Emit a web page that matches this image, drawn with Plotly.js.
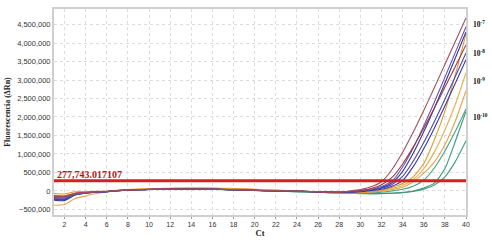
<!DOCTYPE html>
<html>
<head>
<meta charset="utf-8">
<script src="https://cdn.plot.ly/plotly-3.0.1.min.js"></script>
<style>html,body{margin:0;padding:0;background:#fff;}#chart{width:492px;height:243px;}</style>
</head>
<body>
<div id="chart"></div>
<script>
// Cycles (Ct)
const cycles = [1,2,3,4,5,6,7,8,9,10,11,12,13,14,15,16,17,18,19,20,21,22,23,24,25,26,27,28,29,30,31,32,33,34,35,36,37,38,39,40];

// Threshold value
const threshold = 277743.017107;
const thresholdLabel = "277,743.017107";

// Dilution labels
const dilutionLabels = ["10<sup>-7</sup>", "10<sup>-8</sup>", "10<sup>-9</sup>", "10<sup>-10</sup>"];

// Fluorescence (ΔRn) series
const maroon1 = [-150000,-160000,-70000,-45000,-25000,-15000,10000,25000,35000,42000,48000,52000,54000,54000,52000,48000,42000,36000,28000,18000,10000,4000,0,-5000,-12000,-20000,-28000,-30000,0,37000,113000,250000,581000,1046000,1586000,2175000,2791000,3419000,4050000,4680000];
const maroon2 = [-130000,-140000,-60000,-40000,-22000,-14000,12000,27000,37000,44000,50000,54000,56000,55000,53000,49000,43000,36000,28000,19000,11000,4000,-1000,-6000,-13000,-21000,-29000,-32000,-14000,15000,66000,168000,365000,730000,1185000,1695000,2240000,2802000,3372000,3950000];
const blue1 = [-200000,-210000,-90000,-55000,-30000,-18000,6000,22000,32000,40000,45000,49000,51000,51000,49000,45000,40000,34000,26000,17000,9000,2000,-3000,-8000,-15000,-23000,-31000,-35000,-21000,3000,41000,122000,265000,647000,1164000,1757000,2401000,3071000,3754000,4440000];
const blue2 = [-250000,-260000,-110000,-60000,-32000,-20000,5000,21000,31000,39000,44000,48000,50000,50000,48000,44000,39000,33000,25000,16000,8000,1000,-4000,-9000,-16000,-24000,-32000,-35000,-25000,-5000,29000,96000,220000,529000,1017000,1599000,2238000,2912000,3604000,4300000];
const blue3 = [-180000,-190000,-80000,-50000,-28000,-17000,8000,23000,33000,41000,46000,50000,52000,52000,50000,46000,40000,34000,26000,17000,9000,2000,-3000,-8000,-15000,-23000,-31000,-35000,-30000,-12000,17000,71000,175000,393000,802000,1308000,1873000,2477000,3099000,3730000];
const blue4 = [-220000,-230000,-100000,-58000,-30000,-19000,7000,22000,32000,40000,45000,49000,51000,51000,49000,45000,39000,33000,25000,16000,8000,1000,-4000,-9000,-16000,-24000,-32000,-38000,-35000,-20000,5000,45000,130000,280000,657000,1144000,1698000,2297000,2917000,3550000];
const orange1 = [-70000,-80000,-20000,-15000,-10000,-5000,18000,35000,50000,60000,68000,74000,78000,80000,80000,77000,72000,65000,56000,45000,34000,22000,10000,-2000,-14000,-26000,-38000,-48000,-52000,-45000,-20000,20000,100000,200000,380000,740000,1380000,2150000,3150000,4250000];
const orange2 = [-120000,-130000,-60000,-40000,-20000,-10000,15000,32000,45000,55000,63000,69000,73000,75000,74000,71000,66000,59000,50000,40000,29000,18000,7000,-4000,-16000,-28000,-40000,-50000,-55000,-50000,-30000,10000,70000,150000,310000,600000,1050000,1650000,2350000,3200000];
const orange3 = [-385000,-366000,-205000,-134000,-70000,-25000,5000,25000,40000,50000,58000,64000,68000,70000,70000,67000,62000,55000,46000,36000,25000,14000,3000,-8000,-20000,-32000,-44000,-55000,-62000,-60000,-45000,-10000,40000,100000,250000,480000,780000,1250000,1900000,2710000];
const green1 = [-160000,-170000,-75000,-48000,-26000,-16000,8000,23000,33000,40000,45000,48000,50000,50000,48000,44000,38000,31000,23000,14000,5000,-3000,-10000,-18000,-26000,-34000,-42000,-50000,-58000,-62000,-55000,-35000,0,45000,130000,290000,620000,1080000,1620000,2220000];
const green2 = [-230000,-240000,-95000,-55000,-30000,-19000,6000,21000,31000,38000,43000,46000,48000,48000,46000,42000,36000,29000,21000,12000,3000,-5000,-13000,-21000,-30000,-39000,-48000,-57000,-66000,-72000,-75000,-72000,-60000,-40000,0,80000,210000,600000,1350000,2150000];
const green3 = [-140000,-150000,-65000,-42000,-24000,-15000,9000,24000,34000,41000,46000,49000,51000,51000,49000,45000,39000,32000,24000,15000,6000,-2000,-10000,-18000,-27000,-36000,-45000,-54000,-62000,-68000,-72000,-70000,-62000,-45000,-15000,50000,160000,380000,800000,1360000];

const seriesList = [
  {y: orange3, color: '#e2a548'},
  {y: green3, color: '#3f9c7e'},
  {y: green2, color: '#3a9878'},
  {y: green1, color: '#44a083'},
  {y: orange2, color: '#e7ad4a'},
  {y: orange1, color: '#dd9a30'},
  {y: blue4, color: '#3a3aa8'},
  {y: blue3, color: '#4b47b0'},
  {y: blue2, color: '#35359f'},
  {y: blue1, color: '#6a54b0'},
  {y: maroon2, color: '#9b3b3f'},
  {y: maroon1, color: '#a44c60'}
];

const traces = seriesList.map(s => ({
  x: cycles, y: s.y, type: 'scatter', mode: 'lines',
  line: {color: s.color, width: 1.1, shape: 'spline', smoothing: 0.6},
  hoverinfo: 'skip', showlegend: false
}));

const serif = "Liberation Serif, Times New Roman, serif";
const sans = "Liberation Sans, Arial, sans-serif";

const layout = {
  width: 492, height: 243,
  margin: {l: 52, r: 26, t: 7, b: 26},
  paper_bgcolor: '#ffffff', plot_bgcolor: '#ffffff',
  showlegend: false,
  xaxis: {
    range: [1, 40], tick0: 2, dtick: 2, automargin: true,
    showgrid: true, gridcolor: '#dcdcdc', griddash: 'dot', gridwidth: 1,
    zeroline: false, showline: true, mirror: true, linecolor: '#cfcfcf', linewidth: 2,
    ticks: 'outside', ticklen: 2, tickcolor: '#999',
    tickfont: {family: sans, size: 7, color: '#333'},
    title: {text: 'Ct', font: {family: serif, size: 8.5, color: '#222', weight: 'bold'}, standoff: 2}
  },
  yaxis: {
    range: [-650000, 4920000], tick0: 0, dtick: 500000, tickformat: ',d', automargin: true,
    showgrid: true, gridcolor: '#dcdcdc', griddash: 'dot', gridwidth: 1,
    zeroline: false, showline: true, mirror: true, linecolor: '#cfcfcf', linewidth: 2,
    ticks: '', tickfont: {family: sans, size: 7.5, color: '#333'},
    title: {text: 'Fluorescencia (ΔRn)', font: {family: serif, size: 8, color: '#222', weight: 'bold'}, standoff: 5}
  },
  shapes: [{
    type: 'line', xref: 'paper', x0: 0, x1: 1, yref: 'y', y0: threshold, y1: threshold,
    line: {color: '#d42020', width: 3}
  }],
  annotations: [
    {xref: 'paper', yref: 'y', x: 0.002, y: threshold, text: thresholdLabel, showarrow: false,
     xanchor: 'left', yanchor: 'bottom', yshift: -1,
     font: {family: serif, size: 10, color: '#b01818', weight: 'bold'}},
    ...dilutionLabels.map((t, i) => ({
      xref: 'paper', yref: 'paper', x: 1.012, y: [0.929, 0.786, 0.652, 0.476][i], text: t,
      showarrow: false, xanchor: 'left', yanchor: 'middle',
      font: {family: serif, size: 7.5, color: '#111', weight: 'bold'}
    }))
  ]
};

Plotly.newPlot('chart', traces, layout, {staticPlot: true, displayModeBar: false});
</script>
</body>
</html>
